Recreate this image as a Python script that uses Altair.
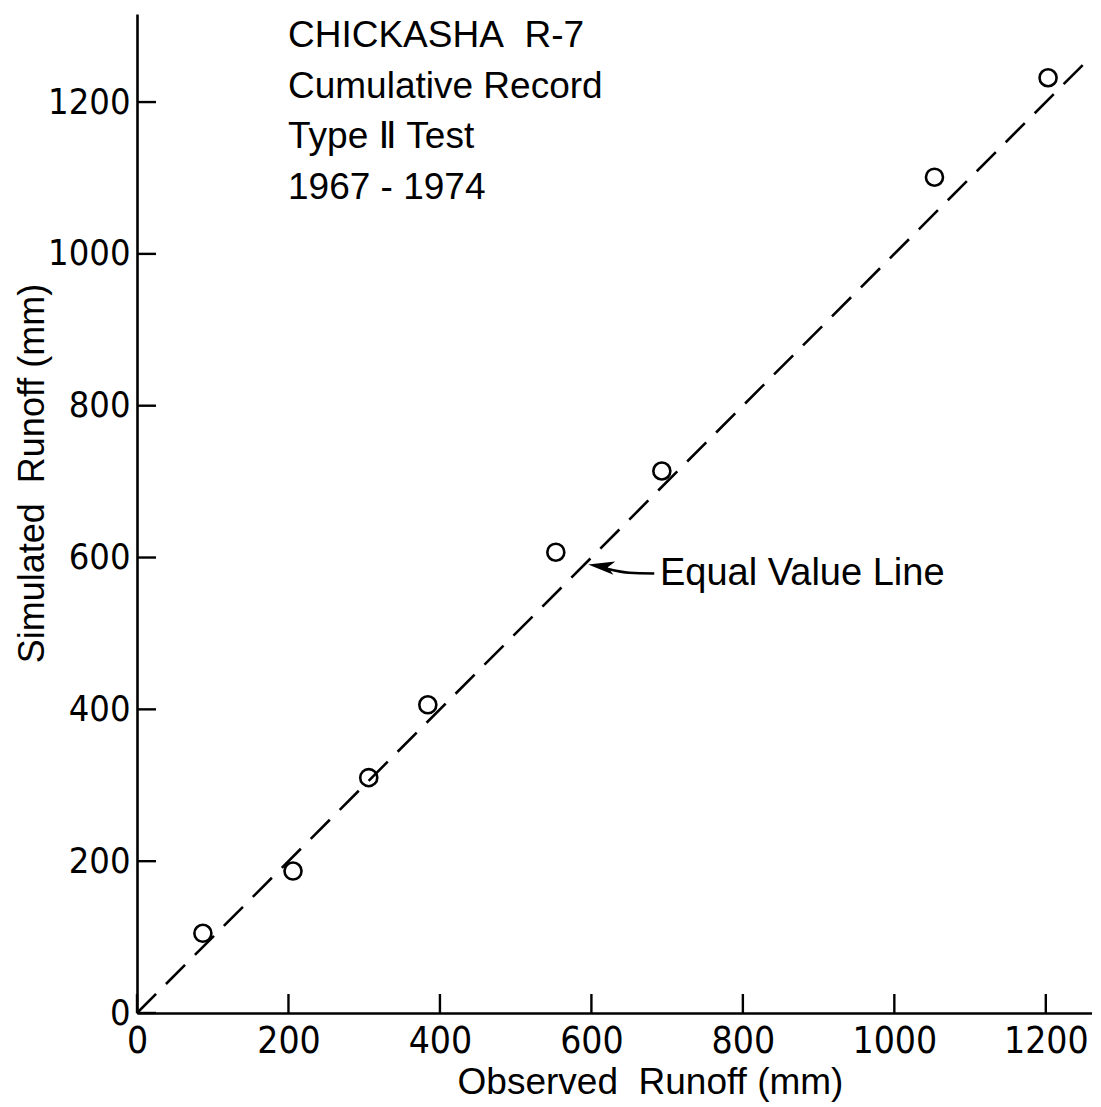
import altair as alt
import pandas as pd

# ---- data ----
observed = [87, 206, 306, 384, 553, 693, 1053, 1203]
simulated = [105, 187, 310, 406, 607, 714, 1101, 1232]
tick_values = [0, 200, 400, 600, 800, 1000, 1200]
equal_line = [0, 1250]
title_lines = ["CHICKASHA\u00a0\u00a0R-7", "Cumulative Record", "Type \u2161 Test", "1967 - 1974"]

W, H = 955, 999
XMAX, YMAX = 1261, 1316
FONT = "Liberation Sans Narrow, DejaVu Sans Condensed, Liberation Sans, sans-serif"
TFONT = "Liberation Sans, DejaVu Sans, sans-serif"

xs = alt.Scale(domain=[0, XMAX], nice=False, zero=True)
ys = alt.Scale(domain=[0, YMAX], nice=False, zero=True)

XT = "Observed\u00a0\u00a0Runoff (mm)"
YT = "Simulated\u00a0\u00a0Runoff (mm)"

pts = pd.DataFrame({"obs": observed, "sim": simulated})
line_df = pd.DataFrame({"obs": equal_line, "sim": equal_line})
xt_df = pd.DataFrame({"obs": tick_values})
yt_df = pd.DataFrame({"sim": tick_values})


def X(**kw):
    return alt.X("obs:Q", scale=xs, title=XT, **kw)


def Y(**kw):
    return alt.Y("sim:Q", scale=ys, title=YT, **kw)


points = alt.Chart(pts).mark_point(
    shape="circle", filled=False, size=290, strokeWidth=2.6, color="black", opacity=1
).encode(
    x=X(axis=alt.Axis(values=tick_values, format="d")),
    y=Y(axis=alt.Axis(values=tick_values, format="d")),
)

eq_line = alt.Chart(line_df).mark_line(
    color="black", strokeWidth=2.6, strokeDash=[27, 14]
).encode(x=X(), y=Y())

xticks = alt.Chart(xt_df).mark_rule(color="black", strokeWidth=2.4).encode(
    x=X(), y=alt.value(H), y2=alt.value(H - 19),
)
yticks = alt.Chart(yt_df).mark_rule(color="black", strokeWidth=2.4).encode(
    y=Y(), x=alt.value(0), x2=alt.value(19),
)

title_layers = []
for i, line in enumerate(title_lines):
    title_layers.append(
        alt.Chart(pd.DataFrame({"t": [line]})).mark_text(
            align="left", baseline="alphabetic", font=TFONT, fontSize=37, color="black"
        ).encode(x=alt.value(151), y=alt.value(33 + i * 50.5), text="t:N")
    )

label = alt.Chart(pd.DataFrame({"t": ["Equal Value Line"]})).mark_text(
    align="left", baseline="alphabetic", font=TFONT, fontSize=38, color="black"
).encode(x=alt.value(523), y=alt.value(571), text="t:N")

arrow_df = pd.DataFrame({"obs": [683, 650, 622], "sim": [579, 580, 585], "o": [0, 1, 2]})
arrow_shaft = alt.Chart(arrow_df).mark_line(
    color="black", strokeWidth=2.6, interpolate="monotone"
).encode(x=X(), y=Y(), order="o:O")

arrow_head = alt.Chart(pd.DataFrame({"obs": [613], "sim": [588.5]})).mark_point(
    shape="M-1,0L1,-0.5L0.5,0L1,0.5Z", filled=True, size=700, color="black", opacity=1, angle=8
).encode(x=X(), y=Y())

chart = alt.layer(
    points, eq_line, xticks, yticks, *title_layers, label, arrow_shaft, arrow_head
).properties(
    width=W, height=H,
    autosize=alt.AutoSizeParams(type="none"),
    padding={"left": 129, "top": 6, "right": 0, "bottom": 89},
    background="white",
).configure_view(stroke=None).configure_axisX(
    ticks=False, grid=False, labelPadding=10,
    labelFont=FONT, labelFontSize=37, labelColor="black",
    labelFontWeight="normal", labelFlush=False,
    titleFont=TFONT, titleFontSize=37, titleFontWeight="normal",
    titleColor="black", titleX=513, titleY=80,
    titleBaseline="alphabetic", titleAlign="center",
    domainColor="black", domainWidth=2.6,
).configure_axisY(
    ticks=False, grid=False, labelPadding=7,
    labelFont=FONT, labelFontSize=36, labelColor="black",
    labelFontWeight="normal", labelFlush=False,
    titleFont=TFONT, titleFontSize=36, titleFontWeight="normal",
    titleColor="black", titleX=-94, titleY=459, titleAngle=-90,
    titleBaseline="alphabetic", titleAlign="center",
    domainColor="black", domainWidth=2.6,
)

chart.save("out.html", embed_options={"renderer": "svg", "actions": False})
